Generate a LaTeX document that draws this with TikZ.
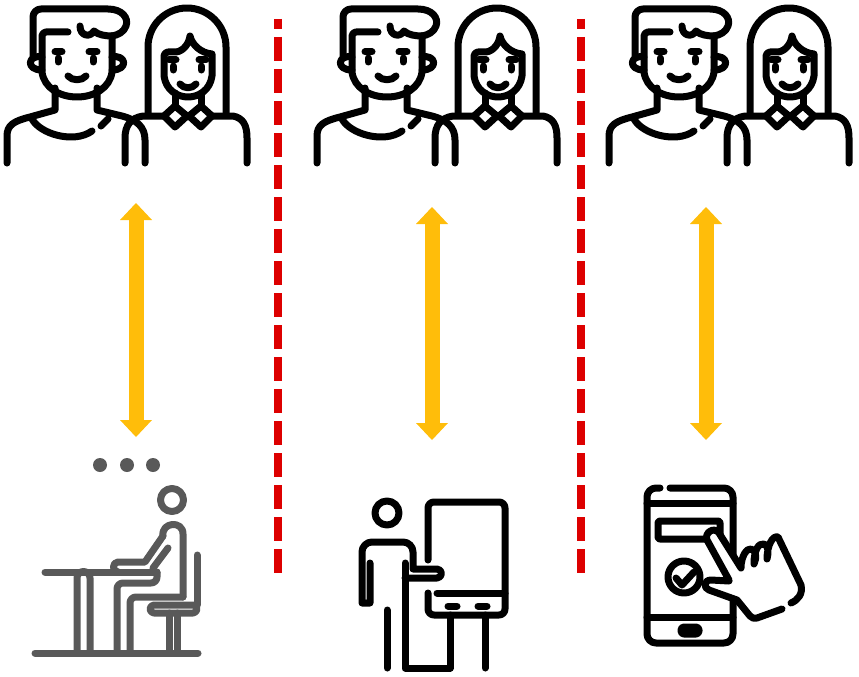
\documentclass[tikz,border=0pt]{standalone}
\usetikzlibrary{arrows.meta}
\definecolor{ink}{RGB}{0,0,0}
\definecolor{slate}{RGB}{89,89,89}
\definecolor{gold}{RGB}{255,189,10}
\definecolor{divider}{RGB}{221,0,0}

\begin{document}
\begin{tikzpicture}[
  x=1pt, y=-1pt,
  icon/.style={draw=ink, line width=7pt, line cap=round, line join=round},
  grayicon/.style={icon, draw=slate},
  link/.style={draw=gold, line width=15pt,
    {Triangle[width=32pt,length=17pt,line width=0pt]}-{Triangle[width=32pt,length=17pt,line width=0pt]}},
  sep/.style={draw=divider, line width=8pt, dash pattern=on 24pt off 8pt, dash phase=14pt},
  couple/.pic={
    % man: shoulders, neck, shirt collar
    \draw[icon] (7,163) -- (7,136) .. controls (7,125) and (14,121) .. (30,117) -- (55,110) -- (55,88);
    \draw[icon] (97,88) -- (97,110) -- (122,116) .. controls (137,120) and (145,127) .. (145,140) -- (145,163);
    \draw[icon] (32,119) .. controls (40,134) and (74,144) .. (92,131);
    \draw[icon] (101,126) -- (108,119);
    % man: face, hair, ears
    \draw[icon] (68,32) -- (46,32) arc[start angle=270,end angle=180,radius=4] -- (42,72)
      .. controls (44,88) and (60,97) .. (77,97) .. controls (94,97) and (110,88) .. (112,72) -- (112,36);
    \draw[icon] (33,58) -- (33,17) arc[start angle=180,end angle=270,radius=8] -- (108,9)
      .. controls (122,9) and (129,18) .. (126,26) .. controls (124,32) and (118,35) .. (112,36);
    \draw[icon] (80,26) .. controls (80,36) and (90,38) .. (94,31) .. controls (98,35) and (106,36) .. (112,36);
    \draw[icon] (42,57) .. controls (28,54) and (25,70) .. (42,70);
    \draw[icon] (112,57) .. controls (126,54) and (129,70) .. (112,70);
    \draw[icon] (58,58) -- (58,62) (93,58) -- (93,62);
    \draw[icon] (55,52) -- (62,52) (89,52) -- (97,52);
    \draw[icon] (68,76) .. controls (72,81) and (82,81) .. (86,76);
    % woman: hair, face
    \draw[icon] (148,113) -- (148,47) arc[start angle=180,end angle=360,radius=39] -- (226,113);
    \draw[icon] (164,76) -- (164,56) arc[start angle=180,end angle=270,radius=4] -- (176,52)
      .. controls (184,51) and (189,43) .. (190,36) .. controls (192,45) and (201,53) .. (212,54) -- (212,76)
      .. controls (210,90) and (199,97) .. (188,97) .. controls (177,97) and (166,90) .. (164,76);
    \draw[icon] (173,66) -- (173,70) (201,66) -- (201,70);
    \draw[icon] (169,60) -- (176,60) (199,60) -- (206,60);
    \draw[icon] (180,84) .. controls (184,89) and (192,89) .. (196,84);
    % woman: neck, collar, shoulders
    \draw[icon] (175,93) -- (175,106) (201,93) -- (201,106);
    \draw[icon] (175,106) -- (164,116) -- (175,127) -- (187,116) -- cycle;
    \draw[icon] (201,106) -- (212,116) -- (201,127) -- (189,116) -- cycle;
    \draw[icon] (164,116) -- (143,116) .. controls (131,118) and (125,125) .. (125,138) -- (125,163);
    \draw[icon] (212,116) -- (233,116) .. controls (243,118) and (247,125) .. (247,138) -- (247,163);
  },
]
\useasboundingbox (0,0) rectangle (859,677);

% ---------------------------------------------------------------- people
\foreach \px/\nm in {0/pair1, 310/pair2, 602/pair3}
  \pic (\nm) at (\px,0) {couple};

% ---------------------------------------------------------------- dividers
\coordinate (d1top) at (278,19);
\coordinate (d1bot) at (278,573);
\coordinate (d2top) at (581,19);
\coordinate (d2bot) at (581,573);
\draw[sep] (d1top) -- (d1bot);
\draw[sep] (d2top) -- (d2bot);

% ---------------------------------------------------------------- links
\coordinate (a1top) at (136,203);
\coordinate (a1bot) at (136,437);
\coordinate (a2top) at (432,207);
\coordinate (a2bot) at (432,440);
\coordinate (a3top) at (706,207);
\coordinate (a3bot) at (706,440);
\draw[link] (a1top) -- (a1bot);
\draw[link] (a2top) -- (a2bot);
\draw[link] (a3top) -- (a3bot);

% ---------------------------------------------------------------- seated at a desk
\foreach \dx in {100,127,153}
  \fill[slate] (\dx,465) circle[radius=7];
\draw[grayicon] (172,500) circle[radius=11.5];
\draw[grayicon] (163,536) .. controls (161,522) and (183,520) .. (183,534) -- (183,597);
\draw[grayicon] (163,536) -- (145,562) -- (118,562) .. controls (112,562) and (112,572) .. (118,572);
\draw[grayicon] (168,548) -- (153,568);
\draw[grayicon] (45,572) -- (157,572);
\draw[grayicon, rounded corners=6] (157,572) -- (157,583) -- (117,583) -- (117,653);
\draw[grayicon, rounded corners=6] (183,597) -- (130,597) -- (130,653);
\draw[grayicon] (197,555) -- (197,605);
\draw[grayicon, rounded corners=4] (150,605) rectangle (197,613);
\draw[grayicon] (169,613) -- (169,653) (177,613) -- (177,653);
\draw[grayicon] (77,653) -- (77,578) arc[start angle=180,end angle=360,radius=6.5] -- (90,653);
\draw[grayicon] (35,653) -- (198,653);

% ---------------------------------------------------------------- presenter at a flip chart
\draw[icon] (387,513) circle[radius=12];
\draw[icon] (370,563) -- (370,603) -- (362,603) -- (362,552) arc[start angle=180,end angle=270,radius=10]
  -- (403,542) arc[start angle=270,end angle=360,radius=10] -- (413,569) -- (437,569)
  arc[start angle=270,end angle=450,radius=4.5] -- (405,578);
\draw[icon] (405,563) -- (405,668) -- (450,668) -- (450,615);
\draw[icon] (387,610) -- (387,668);
\draw[icon, rounded corners=6] (428,560) -- (428,502) -- (505,502) -- (505,615) -- (428,615) -- (428,593);
\draw[icon] (437,593) -- (505,593);
\draw[icon] (448,606) -- (457,606) (478,606) -- (487,606);
\draw[icon] (485,615) -- (485,668);

% ---------------------------------------------------------------- phone and tapping hand
\draw[icon, rounded corners=9] (660,488) -- (647,488) -- (647,643) -- (733,643) -- (733,488) -- (670,488);
\draw[icon] (647,503) -- (733,503);
\draw[icon] (647,617) -- (733,617);
\draw[icon, rounded corners=3] (681,627) rectangle (699,634);
\draw[icon, rounded corners=2] (658,521) rectangle (720,539);
\draw[icon] (684,577) circle[radius=16];
\draw[icon] (676,578) -- (682,585) -- (694,572);
\fill[white] (729,580) -- (707,540) .. controls (704,533) and (714,526) .. (719,533) -- (741,568)
  .. controls (741,556) and (747,548) .. (751,549) .. controls (756,550) and (757,558) .. (754,564)
  .. controls (754,549) and (759,543) .. (764,544) .. controls (768,545) and (769,552) .. (767,559)
  .. controls (767,545) and (773,535) .. (778,537) -- (801,585)
  .. controls (803,594) and (798,600) .. (790,604) -- (782,609) -- (757,618) -- (737,600)
  -- (709,590) .. controls (703,588) and (704,580) .. (711,580) -- cycle;
\draw[icon] (729,580) -- (707,540) .. controls (704,533) and (714,526) .. (719,533) -- (741,568)
  .. controls (741,556) and (747,548) .. (751,549) .. controls (756,550) and (757,558) .. (754,564)
  .. controls (754,549) and (759,543) .. (764,544) .. controls (768,545) and (769,552) .. (767,559)
  .. controls (767,545) and (773,535) .. (778,537) -- (801,585)
  .. controls (803,594) and (798,600) .. (791,603);
\draw[icon] (782,609) -- (757,618) .. controls (754,619) and (752,618) .. (750,616) -- (737,600)
  -- (709,590) .. controls (703,588) and (704,580) .. (711,580) -- (729,581);
\end{tikzpicture}
\end{document}
